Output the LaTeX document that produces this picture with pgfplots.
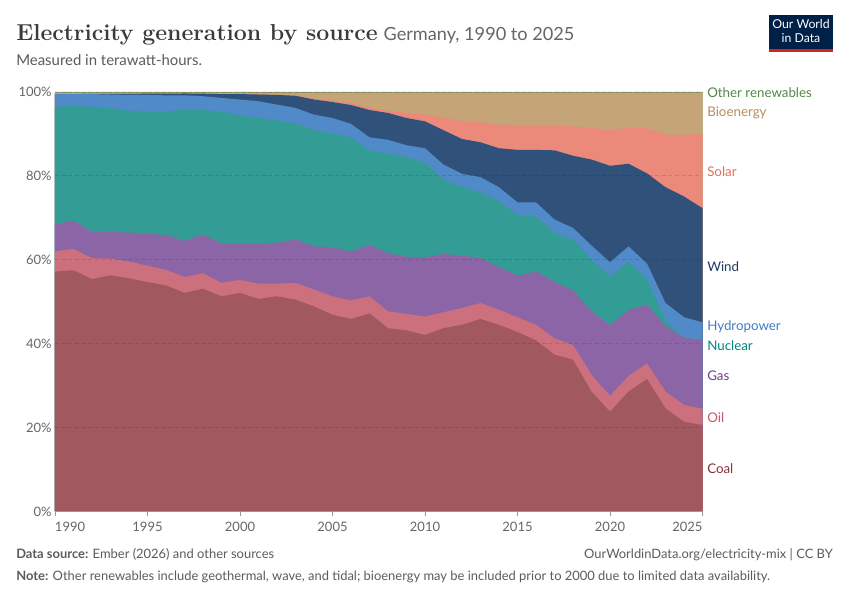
\documentclass[border=0pt]{standalone}
\usepackage{fontspec}
\newfontfamily\lato{Lato}
\usepackage{pgfplots}
\usepackage{pgfplotstable}
\pgfplotsset{compat=1.18}
\definecolor{cCoal}{HTML}{A1595F}
\definecolor{cOil}{HTML}{CC707D}
\definecolor{cGas}{HTML}{8C65A6}
\definecolor{cNuc}{HTML}{339D95}
\definecolor{cHyd}{HTML}{508AC8}
\definecolor{cWind}{HTML}{30527A}
\definecolor{cSolar}{HTML}{EB897A}
\definecolor{cBio}{HTML}{C5A478}
\definecolor{cOther}{HTML}{7E9C6A}
\definecolor{lCoal}{HTML}{883039}
\definecolor{lOil}{HTML}{C4576C}
\definecolor{lGas}{HTML}{6D3E91}
\definecolor{lNuc}{HTML}{00847E}
\definecolor{lHyd}{HTML}{3E7CC6}
\definecolor{lWind}{HTML}{1A3866}
\definecolor{lSolar}{HTML}{E56E5A}
\definecolor{lBio}{HTML}{B48E5C}
\definecolor{lOther}{HTML}{538745}
\definecolor{tgray}{HTML}{666666}
\definecolor{fgray}{HTML}{5B5B5B}
\definecolor{titlec}{HTML}{3A3A3A}
\definecolor{owidblue}{HTML}{002147}
\definecolor{owidred}{HTML}{CE261E}

\pgfplotstableread{
year C O G N H W S B T
1990 57.2 62.0 68.4 96.4 99.5 99.50 99.50 99.85 100
1991 57.5 62.6 69.4 96.7 99.5 99.50 99.50 99.85 100
1992 55.4 60.4 66.6 96.4 99.5 99.55 99.55 99.85 100
1993 56.3 60.3 66.6 96.2 99.4 99.55 99.55 99.85 100
1994 55.6 59.6 66.5 95.6 99.3 99.55 99.55 99.85 100
1995 54.7 58.6 66.2 95.3 99.3 99.60 99.60 99.85 100
1996 53.9 57.6 65.9 95.3 99.2 99.60 99.60 99.85 100
1997 52.1 55.9 64.5 95.9 99.2 99.65 99.65 99.85 100
1998 53.1 56.8 66.0 95.7 99.0 99.60 99.60 99.85 100
1999 51.3 54.5 63.8 95.3 98.6 99.50 99.50 99.85 100
2000 52.1 55.2 63.8 94.5 98.2 99.50 99.50 99.85 100
2001 50.7 54.3 63.8 93.8 97.8 99.40 99.42 99.85 100
2002 51.3 54.3 64.1 93.2 97.0 99.30 99.33 99.85 100
2003 50.5 54.5 64.8 92.5 96.2 99.10 99.20 99.85 100
2004 48.9 52.9 63.2 90.9 94.6 98.20 98.35 99.85 100
2005 46.9 51.3 63.0 90.1 93.8 97.60 97.90 99.85 100
2006 45.9 50.3 62.0 89.2 92.4 96.90 97.30 99.85 100
2007 47.2 51.3 63.5 86.0 89.2 95.70 96.20 99.85 100
2008 43.7 47.7 61.6 85.3 88.6 95.00 95.50 99.85 100
2009 43.2 47.1 60.7 84.5 87.3 93.80 95.00 99.85 100
2010 42.1 46.5 60.6 83.1 86.6 93.00 94.60 99.85 100
2011 43.7 47.5 61.4 79.1 82.7 90.90 93.90 99.85 100
2012 44.5 48.5 61.0 77.3 80.5 88.80 93.00 99.85 100
2013 45.9 49.7 60.4 76.0 79.7 88.00 92.80 99.85 100
2014 44.5 48.1 58.3 73.9 77.3 86.60 92.20 99.85 100
2015 42.8 46.3 56.2 70.7 73.7 86.20 92.10 99.85 100
2016 40.8 44.5 57.2 70.3 73.7 86.20 92.10 99.85 100
2017 37.4 41.3 54.7 66.4 69.6 86.10 92.00 99.85 100
2018 36.2 39.7 52.7 64.8 67.6 84.80 91.80 99.85 100
2019 28.6 32.6 47.7 60.0 63.4 83.90 91.40 99.85 100
2020 23.8 27.6 44.4 55.9 59.4 82.40 91.00 99.85 100
2021 28.6 32.3 48.0 59.6 63.2 82.90 91.40 99.85 100
2022 31.6 35.3 49.3 55.4 59.1 80.60 91.40 99.85 100
2023 24.6 28.6 44.2 45.5 49.7 77.30 89.80 99.85 100
2024 21.4 25.4 41.4 41.4 46.3 75.10 89.80 99.85 100
2025 20.6 24.5 40.9 40.9 45.1 72.30 90.00 99.85 100
}\data

\begin{document}
\begin{tikzpicture}
\useasboundingbox (0,0) rectangle (637.5pt,450pt);
\begin{axis}[
  at={(41.25pt,66.375pt)}, anchor=south west,
  scale only axis, width=485.625pt, height=314.625pt,
  xmin=1990, xmax=2025, ymin=0, ymax=100,
  axis on top,
  axis x line*=bottom, axis y line*=left,
  x axis line style={draw=black!40, line width=0.6pt},
  y axis line style={draw=none},
  xtick={1990,1995,...,2025},
  xticklabels={\makebox[0pt][l]{1990},1995,2000,2005,2010,2015,2020,\makebox[0pt][r]{2025}},
  ytick={0,20,...,100},
  yticklabels={0\%,20\%,40\%,60\%,80\%,100\%},
  xtick align=outside,
  major tick length=3.75pt,
  xtick style={draw=black!40, line width=0.6pt},
  ytick style={draw=none},
  ymajorgrids,
  major grid style={densely dashed, black, opacity=0.12, line width=0.6pt},
  tick label style={font=\lato\fontsize{9.75}{11}\selectfont, text=tgray},
  xticklabel style={yshift=-1pt},
  yticklabel style={xshift=1pt},
]
\addplot[fill=cOther, draw=none] table[x=year,y=T]{\data} \closedcycle;
\addplot[fill=cBio, draw=none] table[x=year,y=B]{\data} \closedcycle;
\addplot[fill=cSolar, draw=none] table[x=year,y=S]{\data} \closedcycle;
\addplot[fill=cWind, draw=none] table[x=year,y=W]{\data} \closedcycle;
\addplot[fill=cHyd, draw=none] table[x=year,y=H]{\data} \closedcycle;
\addplot[fill=cNuc, draw=none] table[x=year,y=N]{\data} \closedcycle;
\addplot[fill=cGas, draw=none] table[x=year,y=G]{\data} \closedcycle;
\addplot[fill=cOil, draw=none] table[x=year,y=O]{\data} \closedcycle;
\addplot[fill=cCoal, draw=none] table[x=year,y=C]{\data} \closedcycle;
\end{axis}
\begin{scope}[x=0.75pt,y=-0.75pt,shift={(0pt,450pt)}]
  % title
  \node[anchor=base west, inner sep=0] at (16,41)
    {\color{titlec}\fontsize{17.3}{21}\selectfont\bfseries Electricity generation by source\hspace{4.5pt}{\lato\mdseries\fontsize{13.6}{16}\selectfont\color{tgray}Germany, 1990 to 2025}};
  \node[anchor=base west, inner sep=0] at (16,66)
    {\lato\fontsize{11.2}{13}\selectfont\color{fgray}Measured in terawatt-hours.};
  % logo
  \fill[owidblue] (769,15) rectangle (833,52);
  \fill[owidred] (769,49) rectangle (833,52);
  \node[anchor=center, inner sep=0, align=center, text=white, font=\lato\fontsize{9.2}{10.5}\selectfont] at (801,31.5)
    {Our World\\in Data};
  % right labels
  \begin{scope}[every node/.style={anchor=west, inner sep=0}, font=\lato\fontsize{10}{12}\selectfont]
  \node[text=lOther] at (707,93) {Other renewables};
  \node[text=lBio] at (707,113) {Bioenergy};
  \node[text=lSolar] at (707,172) {Solar};
  \node[text=lWind] at (707,267) {Wind};
  \node[text=lHyd] at (707,327) {Hydropower};
  \node[text=lNuc] at (707,346) {Nuclear};
  \node[text=lGas] at (707,376) {Gas};
  \node[text=lOil] at (707,418) {Oil};
  \node[text=lCoal] at (707,469) {Coal};
  \end{scope}
  % footer
  \node[anchor=base west, inner sep=0] at (16,559)
    {\lato\fontsize{9.7}{11}\selectfont\color{fgray}\textbf{Data source:} Ember (2026) and other sources};
  \node[anchor=base east, inner sep=0] at (833,559)
    {\lato\fontsize{9.7}{11}\selectfont\color{fgray}OurWorldinData.org/electricity-mix | CC BY};
  \node[anchor=base west, inner sep=0] at (16,581)
    {\lato\fontsize{9.7}{11}\selectfont\color{fgray}\textbf{Note:} Other renewables include geothermal, wave, and tidal; bioenergy may be included prior to 2000 due to limited data availability.};
\end{scope}
\end{tikzpicture}
\end{document}
